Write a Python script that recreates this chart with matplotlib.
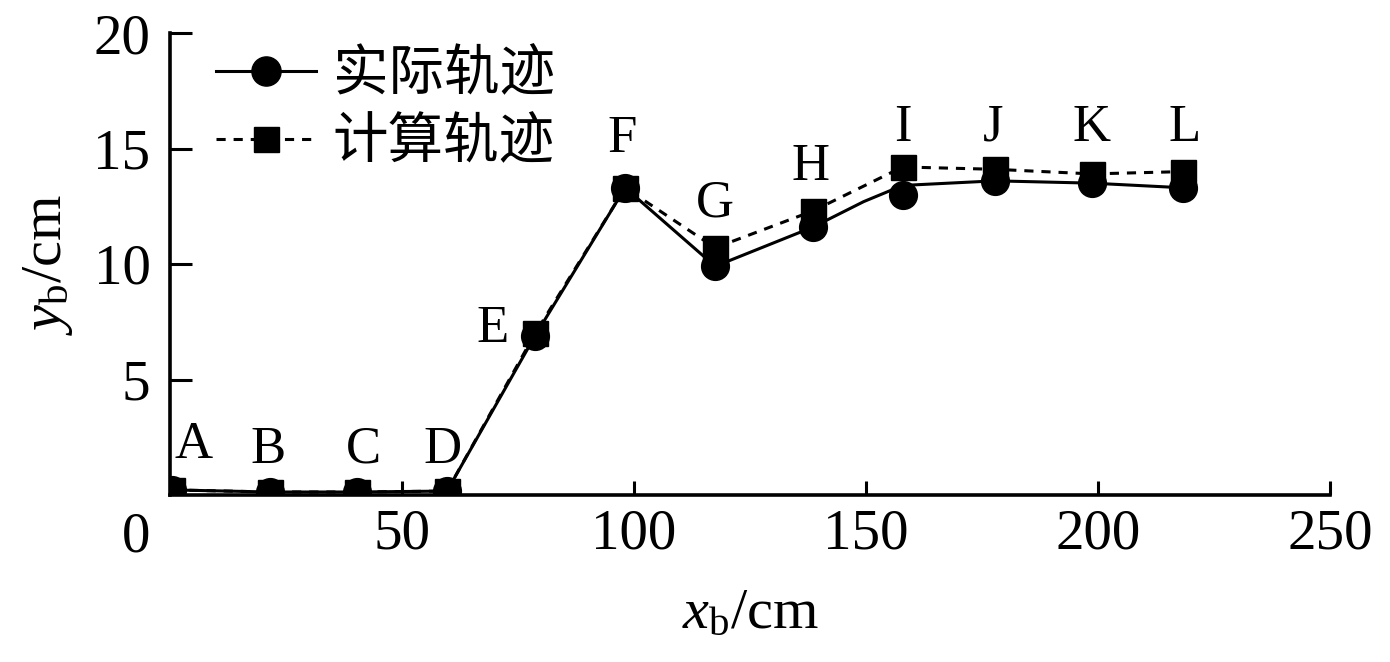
import matplotlib
matplotlib.use("Agg")
import matplotlib.pyplot as plt
from matplotlib.lines import Line2D

plt.rcParams['font.family'] = ['Liberation Serif', 'Noto Sans CJK SC']
plt.rcParams['mathtext.fontset'] = 'custom'
plt.rcParams['mathtext.rm'] = 'Liberation Serif'
plt.rcParams['mathtext.it'] = 'Liberation Serif:italic'

# Data
point_names = ['A', 'B', 'C', 'D', 'E', 'F', 'G', 'H', 'I', 'J', 'K', 'L']
x_points = [0.5, 21.5, 40.3, 59.7, 78.7, 98.1, 117.5, 138.6, 157.9, 177.8, 198.7, 218.3]
y_actual = [0.22, 0.13, 0.13, 0.17, 6.9, 13.3, 9.9, 11.6, 13.0, 13.6, 13.5, 13.3]
y_computed = [0.22, 0.13, 0.13, 0.17, 7.0, 13.3, 10.7, 12.3, 14.2, 14.1, 13.9, 14.0]
# actual trajectory line has an extra vertex between H and I (no marker)
x_actual_line = [0.5, 21.5, 40.3, 59.7, 78.7, 98.1, 117.5, 138.6, 149.5, 157.9, 177.8, 198.7, 218.3]
y_actual_line = [0.22, 0.13, 0.13, 0.17, 6.9, 13.3, 9.9, 11.6, 12.7, 13.4, 13.6, 13.5, 13.3]
label_x = [5, 21.2, 41.6, 58.8, 69.6, 97.4, 117.5, 138, 157.9, 177.4, 198.7, 218.7]
label_y = [2.16, 1.95, 1.95, 1.95, 7.2, 15.4, 12.6, 14.2, 15.9, 15.9, 15.9, 15.9]
series_names = ['实际轨迹', '计算轨迹']
x_ticks = [50, 100, 150, 200, 250]
y_ticks = [5, 10, 15, 20]

fig = plt.figure(figsize=(13.9, 6.62), dpi=100)
ax = fig.add_axes([170/1390, 1-495/662, 1160/1390, 462/662])

lw = 2.2
dash = (0, (3.0, 2.6))
ax.plot(x_points, y_computed, linestyle=dash, color='black', lw=lw,
        marker='s', markersize=18, zorder=3)
ax.plot(x_actual_line, y_actual_line, linestyle='-', color='black', lw=lw, zorder=4)
ax.plot(x_points, y_actual, linestyle='none', color='black',
        marker='o', markersize=20, zorder=5)

for n, lx, ly in zip(point_names, label_x, label_y):
    ax.text(lx, ly, n, ha='center', va='center', fontsize=38, color='black')

ax.set_xlim(0, 250)
ax.set_ylim(0, 20)
ax.set_xticks(x_ticks)
ax.set_yticks(y_ticks)
ax.tick_params(direction='in', width=2.2, labelsize=41, color='black')
ax.tick_params(axis='x', length=10, pad=10)
ax.tick_params(axis='y', length=16, pad=14)
ax.text(-7.3, -1.82, '0', ha='center', va='center', fontsize=41, clip_on=False)

for s in ['top', 'right']:
    ax.spines[s].set_visible(False)
for s in ['left', 'bottom']:
    ax.spines[s].set_linewidth(2.6)

ax.set_xlabel(r'$x_{\rm b}$/cm', fontsize=42, labelpad=20)
ax.set_ylabel(r'$y_{\rm b}$/cm', fontsize=42, labelpad=13)

handles = [
    Line2D([], [], color='black', lw=lw, marker='o', markersize=21),
    Line2D([], [], color='black', lw=lw, linestyle=dash, marker='s', markersize=18),
]
leg = ax.legend(handles, series_names, loc='upper left', bbox_to_anchor=(0.035, 0.985),
                frameon=False, prop={'family': 'Noto Sans CJK SC', 'size': 40},
                handlelength=1.8, handletextpad=0.3, labelspacing=0.2, borderaxespad=0,
                borderpad=0.1)

fig.savefig('out.png', dpi=100)
